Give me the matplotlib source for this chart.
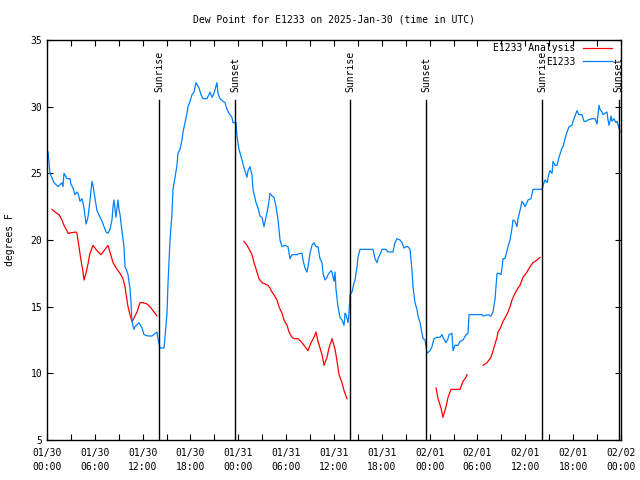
import numpy as np
import pandas as pd
import matplotlib
matplotlib.use("Agg")
import matplotlib.pyplot as plt
import matplotlib.dates as mdates

plt.rcParams['font.family'] = ['DejaVu Sans Mono']
plt.rcParams['font.size'] = 7

# Data: hours after 2025-01-30 00:00 UTC, dew point in deg F
start = pd.Timestamp("2025-01-30 00:00")

obs_hours = [0.13, 0.38, 0.88, 1.38, 1.88, 2.0, 2.13, 2.5, 2.9, 3.0, 3.26, 3.5, 3.76, 3.9, 4.14, 4.4,
             4.64, 4.9, 5.14, 5.4, 5.64, 5.77, 6.0, 6.27, 6.5, 6.9, 7.15, 7.4, 7.65, 7.9, 8.15, 8.28,
             8.4, 8.65, 8.9, 9.03, 9.16, 9.4, 9.66, 9.78, 10.0, 10.16, 10.4, 10.54, 10.66, 10.9, 11.04,
             11.54, 11.92, 12.17, 12.67, 13.17, 13.8, 13.92, 14.17, 14.68, 14.8, 15.05, 15.18, 15.43,
             15.68, 15.8, 16.06, 16.3, 16.43, 16.68, 16.93, 17.06, 17.31, 17.56, 17.69, 17.94, 18.19,
             18.44, 18.69, 19.07, 19.32, 19.57, 20.07, 20.45, 20.7, 20.95, 21.32, 21.45, 21.7, 22.08,
             22.33, 22.58, 22.83, 23.2, 23.33, 23.7, 23.83, 24.08, 24.46, 24.71, 25.09, 25.21, 25.46,
             25.71, 25.84, 26.22, 26.47, 26.72, 26.97, 27.22, 27.47, 27.72, 27.97, 28.22, 28.47, 28.73,
             28.98, 29.23, 29.48, 29.85, 30.23, 30.48, 30.73, 31.36, 31.74, 31.99, 32.11, 32.36, 32.61,
             32.74, 32.99, 33.24, 33.49, 33.74, 33.99, 34.24, 34.5, 34.62, 34.87, 35.12, 35.25, 35.62,
             35.75, 36.0, 36.13, 36.25, 36.5, 36.75, 37.0, 37.26, 37.38, 37.51, 37.76, 37.88, 38.01,
             38.26, 38.51, 38.64, 38.89, 39.01, 39.26, 40.89, 41.14, 41.4, 41.52, 41.9, 42.02, 42.52,
             42.77, 43.4, 43.65, 43.9, 44.28, 44.53, 44.78, 45.03, 45.28, 45.53, 45.79, 45.91, 46.16,
             46.41, 46.54, 46.79, 47.04, 47.17, 47.42, 47.67, 48.04, 48.29, 48.54, 48.92, 49.3, 49.55,
             49.67, 50.05, 50.3, 50.43, 50.8, 50.93, 51.18, 51.56, 51.81, 52.18, 52.56, 52.81, 52.94,
             53.31, 54.57, 54.69, 55.32, 55.69, 55.95, 56.2, 56.45, 56.7, 56.95, 57.07, 57.2, 57.45,
             57.7, 57.83, 58.08, 58.33, 58.45, 58.7, 58.96, 59.08, 59.33, 59.58, 59.71, 59.96, 60.34,
             60.71, 60.96, 62.09, 62.22, 62.47, 62.72, 62.97, 63.1, 63.35, 63.47, 63.72, 63.97, 64.22,
             64.6, 64.73, 64.98, 65.23, 65.48, 65.85, 65.98, 66.23, 66.48, 66.73, 67.11, 67.36, 67.61,
             67.86, 68.36, 68.74, 68.99, 69.24, 69.37, 69.62, 69.74, 69.99, 70.24, 70.37, 70.5, 70.75,
             70.87, 71.12, 71.37, 71.5, 71.75, 71.88]
obs_dewpt = [26.6, 25.0, 24.3, 24.0, 24.3, 24.0, 25.0, 24.6, 24.6, 24.2, 23.9, 23.4, 23.6, 23.5, 22.9, 23.1,
             22.4, 21.2, 21.7, 23.0, 24.4, 24.1, 23.2, 22.2, 21.9, 21.4, 21.0, 20.6, 20.5, 20.8, 21.5, 22.5,
             23.0, 21.7, 23.0, 22.3, 21.9, 20.7, 19.5, 18.0, 17.7, 17.4, 16.4, 15.3, 13.9, 13.3, 13.5,
             13.8, 13.4, 12.9, 12.8, 12.8, 13.1, 12.6, 11.9, 11.9, 12.7, 14.5, 16.8, 20.0,
             22.0, 23.8, 24.7, 25.6, 26.5, 26.8, 27.5, 28.1, 28.8, 29.5, 30.0, 30.4, 30.9,
             31.1, 31.8, 31.4, 30.9, 30.6, 30.6, 31.1, 30.7, 31.0, 31.8, 31.0, 30.6, 30.4,
             30.3, 29.8, 29.5, 29.2, 28.8, 28.8, 27.8, 26.8, 26.0, 25.4, 24.7, 25.2, 25.5,
             24.9, 23.8, 22.8, 22.4, 21.8, 21.7, 21.0, 21.7, 22.4, 23.5, 23.3, 23.2, 22.5,
             21.5, 20.0, 19.5, 19.6, 19.5, 18.6, 18.9, 18.9, 19.0, 19.0, 18.5, 17.9, 17.6,
             18.0, 19.0, 19.6, 19.8, 19.5, 19.5, 18.6, 18.3, 17.5, 17.0, 17.2, 17.4, 17.7,
             17.6, 16.9, 17.6, 16.3, 15.0, 14.2, 14.0, 13.6, 14.5, 14.4, 13.8, 14.5, 15.9,
             16.1, 16.8, 17.0, 18.0, 18.7, 19.3, 19.3, 18.6, 18.3, 18.6, 19.1, 19.3, 19.3,
             19.1, 19.1, 19.8, 20.1, 20.0, 19.8, 19.4, 19.5, 19.5, 19.3, 17.7, 16.5, 15.3,
             14.8, 14.3, 13.8, 13.0, 12.6, 12.5, 11.5, 11.7, 12.0, 12.6, 12.7, 12.7, 12.9,
             12.7, 12.3, 12.6, 12.9, 13.0, 11.7, 12.1, 12.1, 12.4, 12.5, 12.9, 13.0, 14.4,
             14.4, 14.4, 14.3, 14.4, 14.3, 14.6, 15.6, 17.5, 17.5, 17.4, 17.9, 18.6, 18.6,
             19.2, 19.5, 20.0, 20.9, 21.5, 21.4, 21.0, 21.6, 22.2, 22.9, 22.8, 22.5, 23.0,
             23.1, 23.8, 23.8, 24.1, 24.5, 24.3, 25.0, 25.2, 25.0, 25.9, 25.6, 25.6, 26.2,
             26.9, 27.0, 27.6, 28.1, 28.5, 28.6, 28.9, 29.3, 29.7, 29.4, 29.4, 28.9, 28.9,
             29.0, 29.1, 29.1, 28.7, 30.1, 29.8, 29.6, 29.4, 29.5, 29.6, 29.0, 28.6, 29.3,
             28.9, 29.1, 28.8, 28.9, 28.4, 28.1]

# analysis series, NaN marks the gaps
ana_hours = [0.63, 1.0, 1.5, 1.88, 2.13, 2.5, 2.63, 3.64, 3.76, 4.01, 4.26, 4.52, 4.64, 4.89, 5.14, 5.39,
             5.77, 6.27, 6.77, 7.28, 7.65, 7.9, 8.28, 8.78, 9.16, 9.53, 9.78, 10.03, 10.16, 10.41, 10.66,
             10.79, 11.29, 11.67, 12.04, 12.54, 12.92, 13.8, 19.0,
             24.71, 25.09, 25.46, 25.71, 25.97, 26.34, 26.59, 26.97, 27.35, 27.72, 27.97, 28.22, 28.47,
             28.85, 29.1, 29.48, 29.73, 30.11, 30.36, 30.73, 30.98, 31.49, 31.86, 32.11, 32.49, 32.74,
             33.12, 33.49, 33.74, 33.99, 34.5, 34.75, 35.12, 35.37, 35.75, 36.13, 36.38, 36.63, 37.0,
             37.26, 37.63, 43.0,
             48.8, 49.05, 49.42, 49.67, 50.05, 50.3, 50.68, 51.18, 51.81, 52.18, 52.56, 52.68, 53.5,
             54.69, 55.19, 55.69, 55.95, 56.2, 56.45, 56.57, 56.95, 57.2, 57.58, 57.83, 58.08, 58.33,
             58.7, 59.08, 59.33, 59.71, 60.21, 60.59, 60.96, 61.46, 61.84]
ana_dewpt = [22.3, 22.1, 21.9, 21.5, 21.1, 20.7, 20.5, 20.6, 20.5, 19.5, 18.5, 17.6, 17.0, 17.5, 18.2, 19.0,
             19.6, 19.2, 18.9, 19.3, 19.6, 19.1, 18.3, 17.8, 17.5, 17.1, 16.5, 15.5, 15.0, 14.4, 13.9,
             14.0, 14.6, 15.3, 15.3, 15.2, 15.0, 14.3, np.nan,
             19.9, 19.6, 19.2, 18.9, 18.3, 17.6, 17.1, 16.8, 16.7, 16.6, 16.4, 16.1, 15.9,
             15.5, 15.0, 14.5, 14.0, 13.6, 13.1, 12.7, 12.6, 12.6, 12.4, 12.2, 11.9, 11.7,
             12.3, 12.7, 13.1, 12.4, 11.4, 10.6, 11.2, 11.9, 12.6, 11.8, 10.9, 9.9, 9.3,
             8.7, 8.1, np.nan,
             8.9, 8.1, 7.4, 6.7, 7.5, 8.2, 8.8, 8.8, 8.8, 9.4, 9.7, 9.9, np.nan,
             10.6, 10.8, 11.2, 11.7, 12.2, 12.7, 13.1, 13.5, 13.9, 14.3, 14.6, 15.0, 15.5,
             16.0, 16.4, 16.6, 17.2, 17.6, 18.0, 18.3, 18.5, 18.7]

sun_hours = [14.05, 23.58, 38.0, 47.54, 62.09, 71.69]
sun_labels = ["Sunrise", "Sunset", "Sunrise", "Sunset", "Sunrise", "Sunset"]

obs_t = start + pd.to_timedelta(obs_hours, unit="h")
ana_t = start + pd.to_timedelta(ana_hours, unit="h")
sun_t = start + pd.to_timedelta(sun_hours, unit="h")

fig = plt.figure(figsize=(6.4, 4.8), dpi=100)
ax = fig.add_axes([47/640, 40/480, 574/640, 400/480])

ax.plot(ana_t, ana_dewpt, color="#ff0000", lw=0.9, label="E1233 Analysis")
ax.plot(obs_t, obs_dewpt, color="#0080ff", lw=0.9, label="E1233")

# sunrise / sunset markers
for t, lab in zip(sun_t, sun_labels):
    ax.axvline(t, ymin=0, ymax=0.85, color="black", lw=1.0)
    ax.text(t, 0.87, lab, transform=ax.get_xaxis_transform(), rotation=90,
            ha="center", va="bottom", fontsize=7)

ax.set_xlim(start, start + pd.Timedelta(hours=72))
ax.set_ylim(5, 35)
ax.set_yticks(range(5, 36, 5))
ax.xaxis.set_major_locator(mdates.HourLocator(byhour=range(0, 24, 6)))
ax.xaxis.set_minor_locator(mdates.HourLocator(byhour=range(0, 24, 3)))
ax.xaxis.set_major_formatter(mdates.DateFormatter("%m/%d\n%H:%M"))
ax.tick_params(which="both", direction="in", top=True, right=True, length=4, width=0.8,
               labelsize=7)
ax.tick_params(axis="x", pad=6)
for lbl in ax.get_xticklabels():
    lbl.set_linespacing(1.45)
for s in ax.spines.values():
    s.set_linewidth(1.0)

fig.text(334/640, 1 - 19/480, "Dew Point for E1233 on 2025-Jan-30 (time in UTC)",
         ha="center", va="center", fontsize=7)
fig.text(10/640, 0.5, "degrees F", rotation=90, ha="center", va="center", fontsize=7)

ax.legend(loc="upper right", bbox_to_anchor=(612/640, 1 - 43/480), bbox_transform=fig.transFigure,
          frameon=False, markerfirst=False, handlelength=3.0, handletextpad=0.8,
          labelspacing=0.38, borderpad=0, borderaxespad=0, fontsize=7)

fig.savefig("out.png", dpi=100)
